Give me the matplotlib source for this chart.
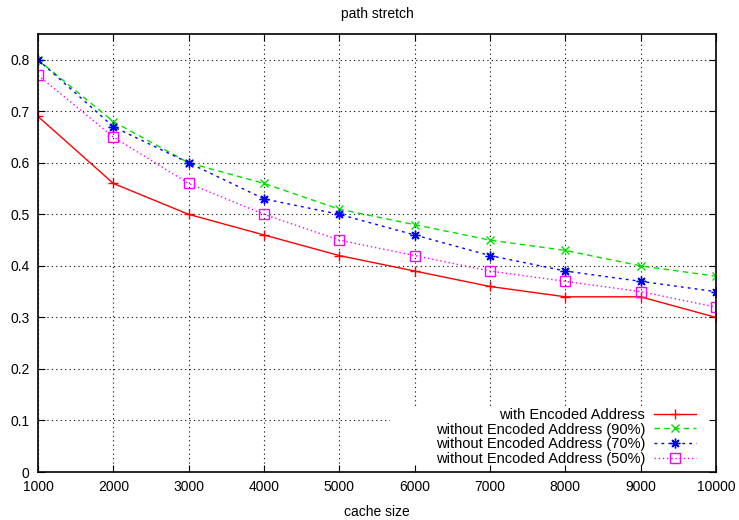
import matplotlib
matplotlib.use("Agg")
import matplotlib.pyplot as plt
from matplotlib.path import Path

plt.rcParams['font.family'] = ['Liberation Sans', 'DejaVu Sans']

cache_sizes = [1000, 2000, 3000, 4000, 5000, 6000, 7000, 8000, 9000, 10000]
with_encoded = [0.69, 0.56, 0.50, 0.46, 0.42, 0.39, 0.36, 0.34, 0.34, 0.30]
without_90 = [0.80, 0.68, 0.60, 0.56, 0.51, 0.48, 0.45, 0.43, 0.40, 0.38]
without_70 = [0.80, 0.67, 0.60, 0.53, 0.50, 0.46, 0.42, 0.39, 0.37, 0.35]
without_50 = [0.77, 0.65, 0.56, 0.50, 0.45, 0.42, 0.39, 0.37, 0.35, 0.32]
y_ticks = [0, 0.1, 0.2, 0.3, 0.4, 0.5, 0.6, 0.7, 0.8]
y_tick_labels = ["0", "0.1", "0.2", "0.3", "0.4", "0.5", "0.6", "0.7", "0.8"]

fig = plt.figure(figsize=(7.39, 5.2), dpi=100)
ax = fig.add_axes([38 / 739, 48 / 520, (716 - 38) / 739, (472 - 34) / 520])

ax.plot(cache_sizes, with_encoded, color='#ff0000', lw=1, ls='-',
        marker='+', ms=7, mew=1, label='with Encoded Address')
ax.plot(cache_sizes, without_90, color='#00e000', lw=1, ls=(0, (4, 3)),
        marker='x', ms=6, mew=1, label='without Encoded Address (90%)')
ax.plot(cache_sizes, without_70, color='#0000ff', lw=1, ls=(0, (2, 3)),
        marker=(8, 2, 0), ms=7, mew=1, label='without Encoded Address (70%)')
ax.plot(cache_sizes, without_50, color='#ff00ff', lw=1, ls=(0, (1, 2)),
        marker='s', ms=7, mew=1, mfc='none', label='without Encoded Address (50%)')

ax.set_xlim(1000, 10000)
ax.set_ylim(0, 0.85)
ax.set_xticks(cache_sizes)
ax.set_xticklabels([str(c) for c in cache_sizes])
ax.set_yticks(y_ticks)
ax.set_yticklabels(y_tick_labels)
ax.tick_params(direction='in', length=5, width=0.8, top=True, right=True,
               labelsize=10, pad=6)
ax.grid(True, color='black', ls=(0, (1, 3)), lw=0.8)
for s in ax.spines.values():
    s.set_linewidth(1.2)

# keep the grid out of the key area (axes box with a hole cut out)
kx0, ky1 = 0.519, 0.148
outer = [(0, 0), (1, 0), (1, 1), (0, 1), (0, 0)]
hole = [(kx0, 0), (kx0, ky1), (1, ky1), (1, 0), (kx0, 0)]
codes = [Path.MOVETO, Path.LINETO, Path.LINETO, Path.LINETO, Path.CLOSEPOLY] * 2
grid_clip = Path(outer + hole, codes)
for tick in ax.xaxis.get_major_ticks() + ax.yaxis.get_major_ticks():
    tick.gridline.set_clip_path(grid_clip, ax.transAxes)

ax.set_title('path stretch', fontsize=10, pad=11.5)
ax.set_xlabel('cache size', fontsize=10, labelpad=8)

ax.legend(loc='lower right', bbox_to_anchor=(0.9705, 0.0137), frameon=False,
          markerfirst=False, fontsize=10.5, handlelength=2.9,
          labelspacing=0.05, borderpad=0, borderaxespad=0,
          handletextpad=0.6)

fig.savefig('out.png', dpi=100)
